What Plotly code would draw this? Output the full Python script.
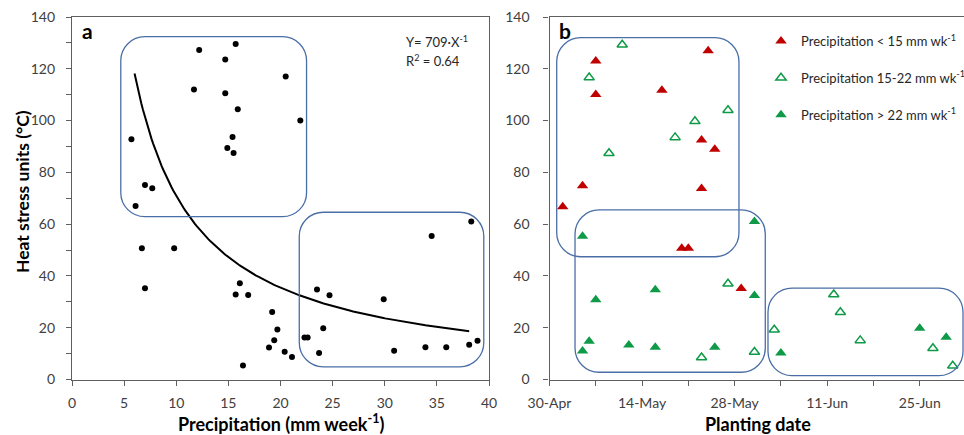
import numpy as np
import pandas as pd
import plotly.graph_objects as go

W, H = 964, 435

# ---- Panel a: weekly precipitation vs. heat stress units ----
precip_mm_wk = [12.2, 15.7, 14.7, 20.5, 11.7, 14.7, 15.9, 21.9, 5.7, 15.4, 14.9,
                15.5, 7.0, 7.7, 6.1, 6.7, 9.8, 7.0, 16.1, 15.7, 16.9, 19.2, 19.7,
                19.4, 18.9, 20.4, 21.1, 16.4, 22.3, 22.6, 38.3, 34.5, 23.5, 24.7,
                29.9, 24.1, 23.7, 30.9, 33.9, 35.9, 38.1, 38.9]
heat_units_a = [127.3, 129.6, 123.6, 117.0, 112.0, 110.6, 104.4, 100.0, 92.8, 93.7,
                89.4, 87.5, 75.1, 73.9, 67.0, 50.7, 50.7, 35.2, 37.2, 32.8, 32.6,
                26.1, 19.3, 15.2, 12.4, 10.7, 8.7, 5.4, 16.2, 16.2, 61.0, 55.4,
                34.8, 32.5, 31.0, 19.8, 10.2, 11.1, 12.5, 12.5, 13.4, 15.0]
fit_coef = 709
fit_r2 = 0.64
fit_x_range = (6.0, 38.1)

# ---- Panel b: planting date vs. heat stress units, by precipitation class ----
base_date = "2014-04-30"
low_dates = ["2014-05-02", "2014-05-05", "2014-05-07", "2014-05-07", "2014-05-17",
             "2014-05-20", "2014-05-21", "2014-05-23", "2014-05-23", "2014-05-24",
             "2014-05-25", "2014-05-29"]
low_hsu = [66.7, 74.8, 123.0, 110.1, 111.7, 50.7, 50.7, 92.5, 73.8, 127.0, 88.9, 35.1]

mid_dates = ["2014-05-06", "2014-05-09", "2014-05-11", "2014-05-19", "2014-05-22",
             "2014-05-23", "2014-05-27", "2014-05-27", "2014-05-31", "2014-06-03",
             "2014-06-12", "2014-06-13", "2014-06-16", "2014-06-27", "2014-06-30"]
mid_hsu = [116.6, 87.4, 129.3, 93.5, 99.7, 8.5, 104.0, 37.0, 10.6, 19.2, 32.8, 26.0,
           15.1, 12.1, 5.3]

high_dates = ["2014-05-05", "2014-05-05", "2014-05-06", "2014-05-07", "2014-05-12",
              "2014-05-16", "2014-05-16", "2014-05-25", "2014-05-31", "2014-05-31",
              "2014-06-04", "2014-06-25", "2014-06-29"]
high_hsu = [55.3, 11.0, 14.8, 30.8, 13.3, 34.7, 12.5, 12.5, 61.0, 32.4, 10.2, 19.8, 16.3]

tick_dates = ["2014-04-30", "2014-05-14", "2014-05-28", "2014-06-11", "2014-06-25"]

series_names = ["Precipitation &lt; 15 mm wk<sup>-1</sup>",
                "Precipitation 15-22 mm wk<sup>-1</sup>",
                "Precipitation &gt; 22 mm wk<sup>-1</sup>"]

RED = "#C00000"
GREEN = "#0E9A47"
BOX = "#4A6EA6"
AXIS = "#5f5f5f"
TXT = "#404040"
FONT = "Lato"


def days_since_base(dates):
    d = pd.to_datetime(pd.Series(dates)) - pd.Timestamp(base_date)
    return d.dt.days.tolist()


# plot-area geometry (pixels)
A_L, A_R = 72, 489
B_L, B_R = 549.5, 964
P_T, P_B = 17, 379.5
A_XR = [0, 40]
B_XR = [0, 62.7]
YR = [0, 140]


def fx(px):
    return px / W


def fy(py):
    return 1 - py / H


fig = go.Figure()

fig.add_trace(go.Scatter(
    x=precip_mm_wk, y=heat_units_a, mode="markers",
    marker=dict(color="black", size=6), showlegend=False,
    xaxis="x", yaxis="y"))

xf = np.linspace(fit_x_range[0], fit_x_range[1], 200)
fig.add_trace(go.Scatter(
    x=xf, y=fit_coef / xf, mode="lines",
    line=dict(color="black", width=2), showlegend=False,
    xaxis="x", yaxis="y"))

groups = [
    (low_dates, low_hsu, dict(symbol="triangle-up", color=RED, size=10)),
    (mid_dates, mid_hsu, dict(symbol="triangle-up-open", color=GREEN, size=9,
                              line=dict(width=1.5, color=GREEN))),
    (high_dates, high_hsu, dict(symbol="triangle-up", color=GREEN, size=10)),
]
for i, (dts, vals, mk) in enumerate(groups):
    fig.add_trace(go.Scatter(
        x=days_since_base(dts), y=vals, mode="markers", marker=mk,
        name=series_names[i], legendgroup=f"g{i}", showlegend=True,
        xaxis="x2", yaxis="y2"))


def rounded_path(x0, x1, y0, y1, sx, sy, r=24):
    rx, ry, k = r / sx, r / sy, 0.5523
    return (f"M {x0+rx},{y0} L {x1-rx},{y0} "
            f"C {x1-rx+k*rx},{y0} {x1},{y0+ry-k*ry} {x1},{y0+ry} "
            f"L {x1},{y1-ry} C {x1},{y1-ry+k*ry} {x1-rx+k*rx},{y1} {x1-rx},{y1} "
            f"L {x0+rx},{y1} C {x0+rx-k*rx},{y1} {x0},{y1-ry+k*ry} {x0},{y1-ry} "
            f"L {x0},{y0+ry} C {x0},{y0+ry-k*ry} {x0+rx-k*rx},{y0} {x0+rx},{y0} Z")


sy = (P_B - P_T) / (YR[1] - YR[0])
sxa = (A_R - A_L) / (A_XR[1] - A_XR[0])
sxb = (B_R - B_L) / (B_XR[1] - B_XR[0])

groups_a = [(4.68, 22.5, 62.9, 132.4), (21.8, 39.5, 4.9, 64.6)]
groups_b = [(1.09, 28.66, 47.4, 132.0), (3.86, 32.64, 2.8, 65.5), (33.05, 62.55, 1.5, 35.3)]
shapes = []
for g in groups_a:
    shapes.append(dict(type="path", xref="x", yref="y",
                       path=rounded_path(*g, sxa, sy),
                       line=dict(color=BOX, width=1.3)))
for g in groups_b:
    shapes.append(dict(type="path", xref="x2", yref="y2",
                       path=rounded_path(*g, sxb, sy),
                       line=dict(color=BOX, width=1.3)))

axis_common = dict(showline=True, linecolor=AXIS, linewidth=1.2, showgrid=False,
                   zeroline=False, ticks="outside", ticklen=5, tickcolor=AXIS,
                   automargin=False,
                   tickfont=dict(family=FONT, size=14, color=TXT))

tick_days = days_since_base(tick_dates)
tick_text = [pd.Timestamp(d).strftime("%d-%b") for d in tick_dates]

fig.update_layout(
    template="none",
    width=W, height=H, margin=dict(l=0, r=0, t=0, b=0, pad=0, autoexpand=False),
    paper_bgcolor="white", plot_bgcolor="white",
    font=dict(family=FONT, color=TXT),
    xaxis=dict(domain=[fx(A_L), fx(A_R)], range=A_XR, dtick=5, mirror=True,
               ticklabelstandoff=6, **axis_common),
    yaxis=dict(domain=[fy(P_B), fy(P_T)], range=YR, dtick=20, mirror=True,
               ticklabelstandoff=8,
               minor=dict(dtick=10, ticks="outside", ticklen=5, tickcolor=AXIS),
               **axis_common),
    xaxis2=dict(domain=[fx(B_L), fx(B_R)], range=B_XR, anchor="y2",
                tickmode="array", tickvals=tick_days, ticktext=tick_text, mirror=True,
                ticklabelstandoff=6,
                minor=dict(tick0=0, dtick=7, ticks="outside", ticklen=5, tickcolor=AXIS),
                **axis_common),
    yaxis2=dict(domain=[fy(P_B), fy(P_T)], range=YR, dtick=20, anchor="x2",
                ticklabelstandoff=11, **axis_common),
    shapes=shapes,
    legend=dict(x=fx(761), y=fy(26), xanchor="left", yanchor="top",
                bgcolor="rgba(0,0,0,0)", tracegroupgap=17,
                font=dict(family=FONT, size=13, color="#262626")),
    showlegend=True,
)

ann = []
ann.append(dict(text="<b>a</b>", x=fx(80), y=fy(30), xref="paper", yref="paper",
                xanchor="left", yanchor="middle", showarrow=False,
                font=dict(family=FONT, size=21, color="black")))
ann.append(dict(text="<b>b</b>", x=fx(557), y=fy(30), xref="paper", yref="paper",
                xanchor="left", yanchor="middle", showarrow=False,
                font=dict(family=FONT, size=21, color="black")))
ann.append(dict(text=f"Y= {fit_coef}·X<sup>-1</sup>", x=fx(404), y=fy(42),
                xref="paper", yref="paper", xanchor="left", yanchor="middle",
                showarrow=False, font=dict(family=FONT, size=13, color="#262626")))
ann.append(dict(text=f"R<sup>2</sup> = {fit_r2:.2f}", x=fx(404), y=fy(61),
                xref="paper", yref="paper", xanchor="left", yanchor="middle",
                showarrow=False, font=dict(family=FONT, size=13, color="#262626")))
ann.append(dict(text="<b>Heat stress units (°C)</b>", x=fx(22), y=fy(192),
                xref="paper", yref="paper", xanchor="center", yanchor="middle",
                textangle=-90, showarrow=False,
                font=dict(family=FONT, size=17.5, color="black")))
ann.append(dict(text="<b>Precipitation (mm week<sup>-1</sup>)</b>", x=fx(280.5), y=fy(423),
                xref="paper", yref="paper", xanchor="center", yanchor="middle",
                showarrow=False, font=dict(family=FONT, size=18, color="black")))
ann.append(dict(text="<b>Planting date</b>", x=fx(758), y=fy(424),
                xref="paper", yref="paper", xanchor="center", yanchor="middle",
                showarrow=False, font=dict(family=FONT, size=18, color="black")))
fig.update_layout(annotations=ann)

fig.write_html("out.html")
